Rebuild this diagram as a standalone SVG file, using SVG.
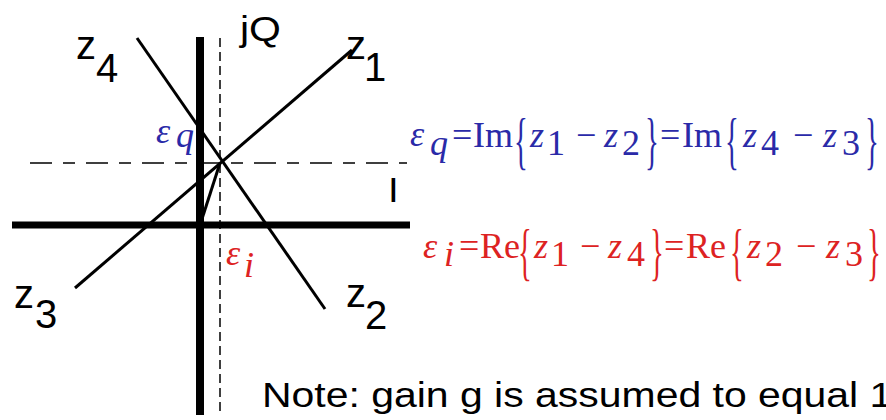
<svg xmlns="http://www.w3.org/2000/svg" width="886" height="420" viewBox="0 0 886 420">
<style>
.axis{stroke:#000;fill:none}
.thin{stroke:#000;stroke-width:3;fill:none;stroke-linecap:butt}
.dash{stroke:#000;stroke-width:1.5;fill:none}
.lbl{font-family:"Liberation Sans",Arial,sans-serif;font-size:40px;fill:#000}
.ax{font-family:"Liberation Sans",Arial,sans-serif;font-size:35px;fill:#000}
.eq{font-family:"Liberation Serif","Times New Roman",serif;font-size:36px}
.br{font-family:"Liberation Serif","Times New Roman",serif;font-size:64px}
.it{font-style:italic}
.blue{fill:#2a2aa8}
.red{fill:#dd2222}
</style>
<rect width="886" height="420" fill="#fff"/>
<g id="axes">
<line class="axis" x1="200" y1="37" x2="200" y2="415" stroke-width="8"/>
<line class="axis" x1="12" y1="225" x2="410" y2="225" stroke-width="7"/>
<line class="dash" x1="220" y1="38" x2="220" y2="415" stroke-dasharray="9,5"/>
<line class="dash" x1="30" y1="163" x2="407" y2="163" stroke-dasharray="22,11,12,11"/>
<text class="ax" transform="translate(240,41) scale(1.17,1)">jQ</text>
<text class="ax" transform="translate(388,202) scale(1.1,1)">I</text>
</g>
<g id="connectors">
<line class="thin" x1="75" y1="288" x2="352" y2="50"/>
<line class="thin" x1="137" y1="38" x2="325" y2="309"/>
<line class="thin" x1="220" y1="163" x2="201" y2="222"/>
</g>
<g id="z1"><text class="lbl" x="346" y="59">z</text><text class="lbl" x="364" y="81">1</text></g>
<g id="z2"><text class="lbl" x="346" y="307">z</text><text class="lbl" x="365" y="329">2</text></g>
<g id="z3"><text class="lbl" x="14" y="308">z</text><text class="lbl" x="35" y="328">3</text></g>
<g id="z4"><text class="lbl" x="76" y="59">z</text><text class="lbl" x="96" y="82">4</text></g>
<g id="eps-q-label">
<text class="eq it blue" x="156" y="143" font-size="38">ε</text>
<text class="eq it blue" x="176" y="147" font-size="28">q</text>
</g>
<g id="eps-i-label">
<text class="eq it red" x="226" y="265" font-size="36">ε</text>
<text class="eq it red" x="244" y="277" font-size="28">i</text>
</g>
<g id="eq-q">
<text class="eq it blue" x="410" y="146" font-size="38">ε</text>
<text class="eq it blue" x="430" y="155">q</text>
<text class="eq blue" x="452" y="147">=</text>
<text class="eq blue" x="473" y="147">Im</text>
<text class="br blue" transform="translate(514,162) scale(0.45,1)">{</text>
<text class="eq it blue" x="530" y="147">z</text>
<text class="eq blue" x="547" y="155">1</text>
<text class="eq blue" x="576" y="147">−</text>
<text class="eq it blue" x="604" y="147">z</text>
<text class="eq blue" x="622" y="155">2</text>
<text class="br blue" transform="translate(645,162) scale(0.45,1)">}</text>
<text class="eq blue" x="660" y="147">=</text>
<text class="eq blue" x="682" y="147">Im</text>
<text class="br blue" transform="translate(725,162) scale(0.45,1)">{</text>
<text class="eq it blue" x="743" y="147">z</text>
<text class="eq blue" x="761" y="155">4</text>
<text class="eq blue" x="793" y="147">−</text>
<text class="eq it blue" x="823" y="147">z</text>
<text class="eq blue" x="842" y="155">3</text>
<text class="br blue" transform="translate(865,162) scale(0.45,1)">}</text>
</g>
<g id="eq-i">
<text class="eq it red" x="423" y="258" font-size="38">ε</text>
<text class="eq it red" x="444" y="266">i</text>
<text class="eq red" x="459" y="258">=</text>
<text class="eq red" x="480" y="258">Re</text>
<text class="br red" transform="translate(518,273) scale(0.45,1)">{</text>
<text class="eq it red" x="534" y="258">z</text>
<text class="eq red" x="551" y="266">1</text>
<text class="eq red" x="580" y="258">−</text>
<text class="eq it red" x="608" y="258">z</text>
<text class="eq red" x="627" y="266">4</text>
<text class="br red" transform="translate(650,273) scale(0.45,1)">}</text>
<text class="eq red" x="664" y="258">=</text>
<text class="eq red" x="686" y="258">Re</text>
<text class="br red" transform="translate(730,273) scale(0.45,1)">{</text>
<text class="eq it red" x="747" y="258">z</text>
<text class="eq red" x="765" y="266">2</text>
<text class="eq red" x="796" y="258">−</text>
<text class="eq it red" x="826" y="258">z</text>
<text class="eq red" x="845" y="266">3</text>
<text class="br red" transform="translate(867,273) scale(0.45,1)">}</text>
</g>
<g id="note">
<text class="ax" transform="translate(262,407) scale(1.17,1)">Note: gain g is assumed to equal 1</text>
</g>
</svg>
